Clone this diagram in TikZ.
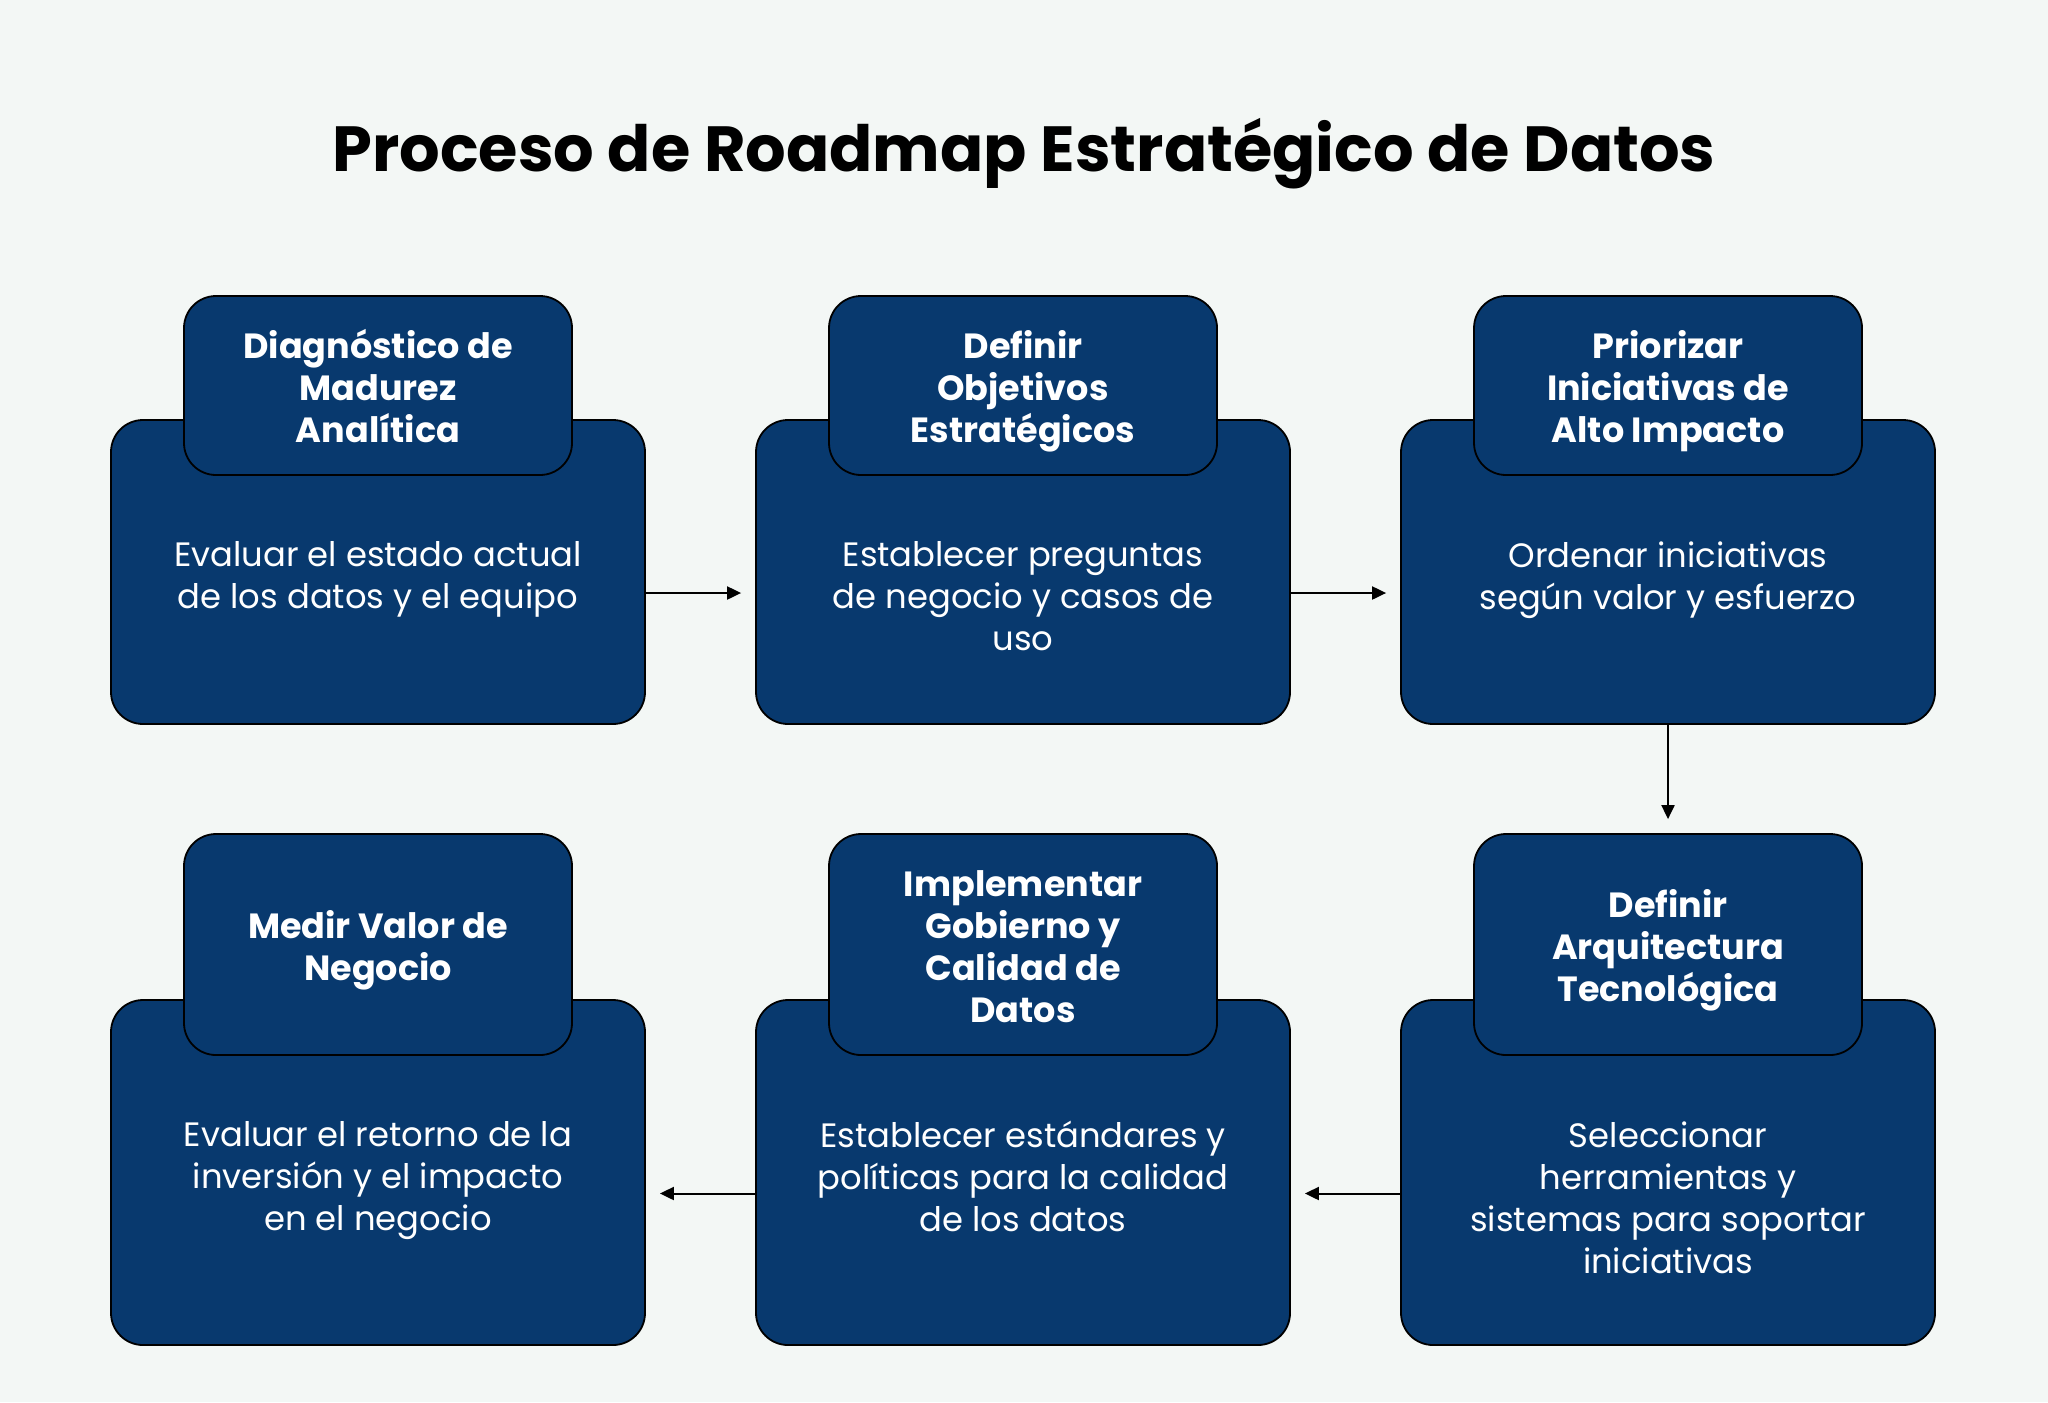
\documentclass[tikz,border=0pt]{standalone}
\usepackage{fontspec}
\setmainfont{Poppins}
\usetikzlibrary{positioning,arrows.meta}

\definecolor{fondo}{HTML}{F3F7F5}
\definecolor{azul}{HTML}{08396E}

% texto de pestana con altura fija arriba y abajo
\newcommand{\textotab}[1]{\rule{0pt}{21pt}#1\strut}

\tikzset{
	stepbox/.style={draw=black, line width=0.9pt, fill=azul, rounded corners=16pt, minimum width=267pt, inner sep=0pt},
	tabbox/.style={draw=black, line width=0.9pt, fill=azul, rounded corners=16pt, minimum width=194pt, inner sep=0pt,
		text=white, align=center, font=\fontsize{17.5}{21}\selectfont\bfseries},
	bodytext/.style={text=white, align=center, inner sep=0pt, font=\fontsize{16.9}{21}\selectfont,
		execute at begin node=\strut, execute at end node=\strut},
	flow/.style={-{Triangle[length=7pt, width=6.5pt]}, line width=1pt, shorten >=7pt},
}

\begin{document}
\begin{tikzpicture}[x=0.5pt, y=-0.5pt]
	\fill[fondo] (0,0) rectangle (2048,1402);
	\useasboundingbox (0,0) rectangle (2048,1402);

	% Titulo
	\node[font=\fontsize{31.9}{38}\selectfont\bfseries] (titulo) at (1024,154) {Proceso de Roadmap Estratégico de Datos};

	% Fila superior
	\node[stepbox, minimum height=152pt] (b1) at (378,572) {};
	\node[tabbox, minimum height=89.5pt] (t1) at (378,385.5) {\textotab{Diagnóstico de\\Madurez\\Analítica}};
	\node[bodytext, below=32.5pt of t1] (d1) {Evaluar el estado actual\\de los datos y el equipo};

	\node[stepbox, minimum height=152pt] (b2) at (1023,572) {};
	\node[tabbox, minimum height=89.5pt] (t2) at (1023,385.5) {\textotab{Definir\\Objetivos\\Estratégicos}};
	\node[bodytext, below=32.5pt of t2] (d2) {Establecer preguntas\\de negocio y casos de\\uso};

	\node[stepbox, minimum height=152pt] (b3) at (1668,572) {};
	\node[tabbox, minimum height=89.5pt] (t3) at (1668,385.5) {\textotab{Priorizar\\Iniciativas de\\Alto Impacto}};
	\node[bodytext, below=32.5pt of t3] (d3) {Ordenar iniciativas\\según valor y esfuerzo};

	% Fila inferior
	\node[stepbox, minimum height=172.5pt] (b4) at (1668,1172.5) {};
	\node[tabbox, minimum height=110.5pt] (t4) at (1668,944.5) {\textotab{Definir\\Arquitectura\\Tecnológica}};
	\node[bodytext, below=32.5pt of t4] (d4) {Seleccionar\\herramientas y\\sistemas para soportar\\iniciativas};

	\node[stepbox, minimum height=172.5pt] (b5) at (1023,1172.5) {};
	\node[tabbox, minimum height=110.5pt] (t5) at (1023,944.5) {\textotab{Implementar\\Gobierno y\\Calidad de\\Datos}};
	\node[bodytext, below=32.5pt of t5] (d5) {Establecer estándares y\\políticas para la calidad\\de los datos};

	\node[stepbox, minimum height=172.5pt] (b6) at (378,1172.5) {};
	\node[tabbox, minimum height=110.5pt] (t6) at (378,944.5) {\textotab{Medir Valor de\\Negocio}};
	\node[bodytext, below=32.5pt of t6] (d6) {Evaluar el retorno de la\\inversión y el impacto\\en el negocio};

	% Flechas
	\draw[flow] ([yshift=-10.5pt]b1.east) -- ([yshift=-10.5pt]b2.west);
	\draw[flow] ([yshift=-10.5pt]b2.east) -- ([yshift=-10.5pt]b3.west);
	\draw[flow] (b3.south) -- (t4.north);
	\draw[flow] ([yshift=-10.5pt]b4.west) -- ([yshift=-10.5pt]b5.east);
	\draw[flow] ([yshift=-10.5pt]b5.west) -- ([yshift=-10.5pt]b6.east);
\end{tikzpicture}
\end{document}
